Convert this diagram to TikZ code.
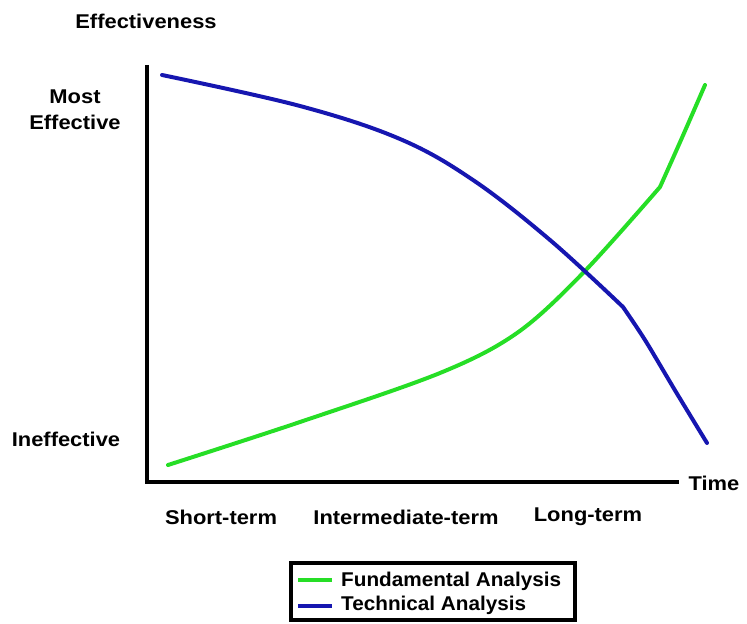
\documentclass[tikz,border=0pt]{standalone}
\usepackage{fontspec}
\setmainfont{Liberation Sans}
\newfontfamily\widesans[FakeStretch=1.1]{Liberation Sans}
\newfontfamily\legendsans[FakeStretch=1.04]{Liberation Sans}
\usepackage{tikz}
\usetikzlibrary{positioning}
\definecolor{fundgreen}{RGB}{38,222,38}
\definecolor{techblue}{RGB}{22,22,176}
\tikzset{
  axislabel/.style={font=\widesans\fontsize{17}{19}\selectfont\bfseries, inner sep=0pt, align=center},
  legendlabel/.style={font=\legendsans\fontsize{17}{19}\selectfont\bfseries, inner sep=0pt, anchor=west},
  axisline/.style={line width=3.4pt, black},
  fundcurve/.style={line width=3.4pt, fundgreen, line cap=round, line join=round},
  techcurve/.style={line width=3.4pt, techblue, line cap=round, line join=round}
}

\begin{document}
\begin{tikzpicture}[x=0.03cm, y=-0.03cm]
        \useasboundingbox (0,0) rectangle (747,624);
        % Axes
        \coordinate (origin) at (147,482);
        \coordinate (ytop) at (147,65);
        \coordinate (xend) at (679,482);
        \draw[axisline] (ytop) -- (origin) -- (xend);

        % Axis titles and level labels
        \node[axislabel] (ytitle) at (146,21) {Effectiveness};
        \node[axislabel] (most) at (75,110) {Most\\[3pt]Effective};
        \node[axislabel] (ineff) at (66,439) {Ineffective};
        \node[axislabel] (xtitle) at (714,483) {Time};

        % Time ranges under the axis
        \node[axislabel] (short) at (221,517) {Short-term};
        \node[axislabel] (inter) at (406,517) {Intermediate-term};
        \node[axislabel] (long) at (588,517) {Long-term};

        % Curves
        \draw[fundcurve] plot[smooth, tension=0.55] coordinates {(168,465) (300,422) (440,373) (517,333) (583,273) (660,187)}
          -- plot[smooth, tension=0.5] coordinates {(660,187) (681,140) (705,85)};
        \draw[techcurve] plot[smooth, tension=0.6] coordinates {(162,75) (300,106) (400,139) (473,180) (550,240) (623,307)}
          -- plot[smooth, tension=0.5] coordinates {(623,307) (645,340) (676,392) (707,443)};

        % Legend
        \node[draw, line width=3.4pt, minimum width=284*0.03cm, minimum height=57*0.03cm, inner sep=0pt] (legend) at (433,591.5) {};
        \coordinate (fundA) at (298,580);
        \coordinate (fundB) at (332,580);
        \coordinate (techA) at (298,606);
        \coordinate (techB) at (332,606);
        \draw[fundcurve, line cap=butt] (fundA) -- (fundB);
        \draw[techcurve, line cap=butt] (techA) -- (techB);
        \node[legendlabel] (fundtext) at (341,581) {Fundamental Analysis};
        \node[legendlabel] (techtext) at (341,605) {Technical Analysis};
    \end{tikzpicture}
\end{document}
